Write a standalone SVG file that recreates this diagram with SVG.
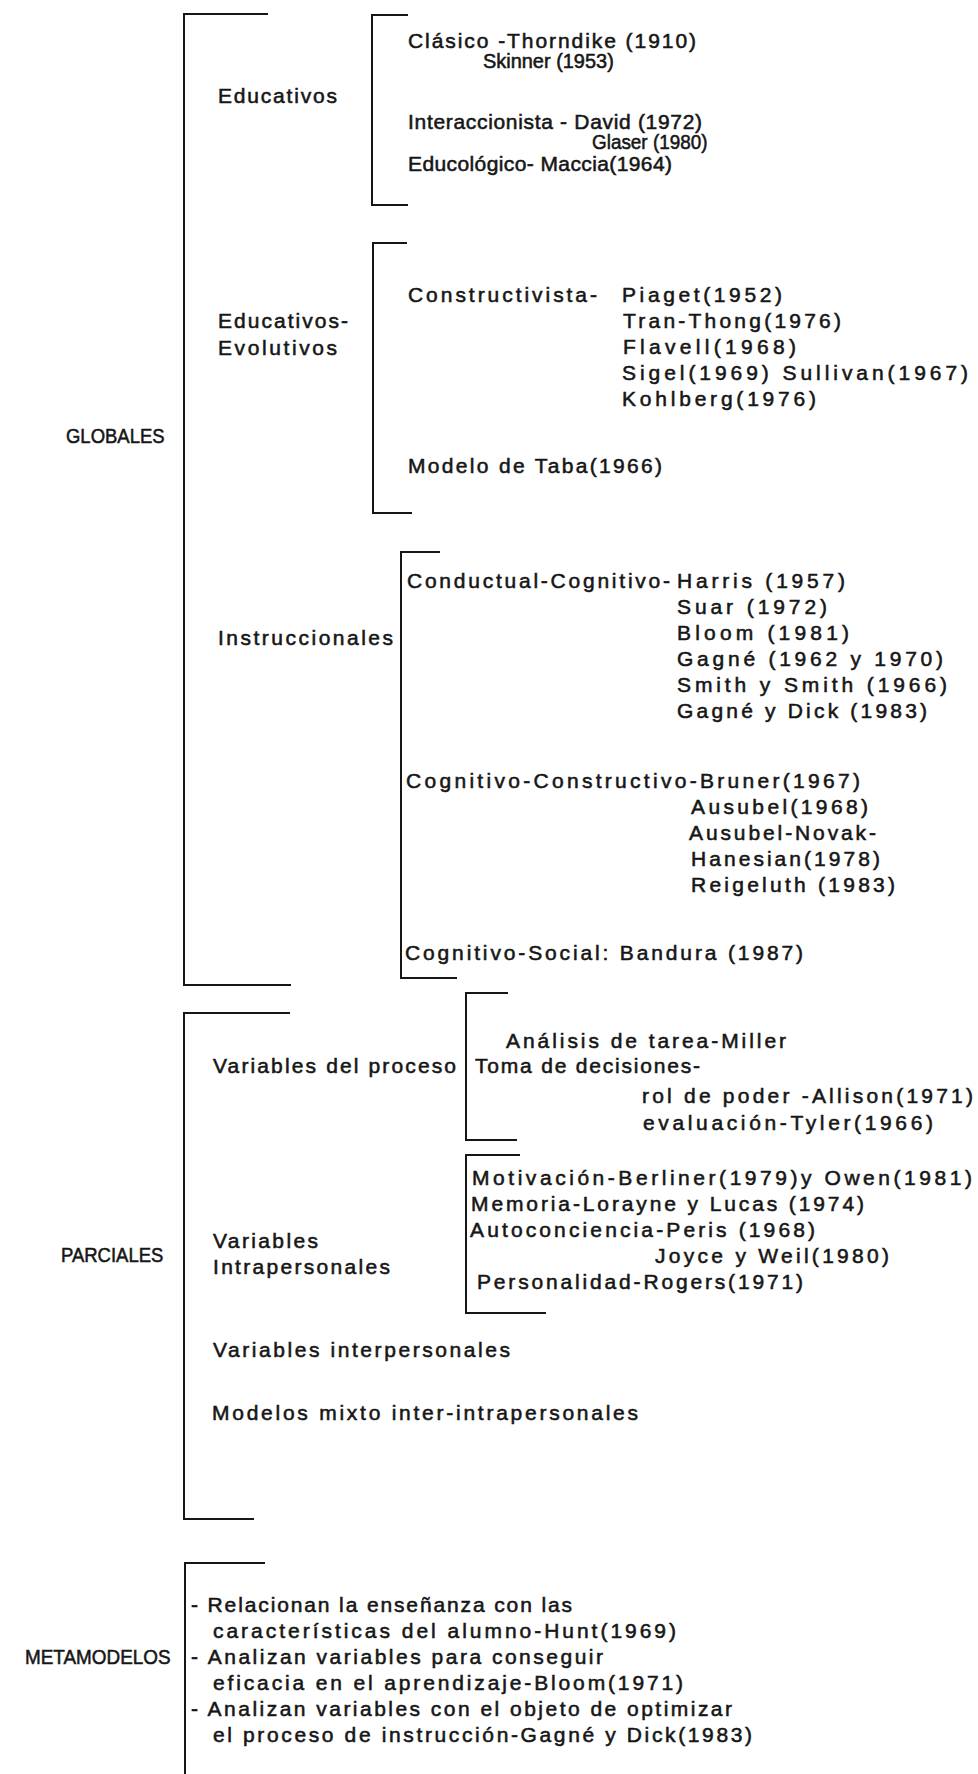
<svg xmlns="http://www.w3.org/2000/svg" width="978" height="1774" viewBox="0 0 978 1774">
<style>
text{font-family:"Liberation Sans","DejaVu Sans",sans-serif;font-size:21px;fill:#161616;stroke:#161616;stroke-width:0.55}
.br{fill:none;stroke:#161616;stroke-width:2}
</style>
<rect width="978" height="1774" fill="#fff"/>
<g id="connectors">
<path class="br" d="M268,14 H184 V985 H291"/>
<path class="br" d="M408,15 H372 V205 H408"/>
<path class="br" d="M407,243 H373 V513 H412"/>
<path class="br" d="M440,552 H401 V978 H457"/>
<path class="br" d="M290,1013 H184 V1519 H254"/>
<path class="br" d="M508,993 H466 V1140 H517"/>
<path class="br" d="M520,1155 H466 V1313 H546"/>
<path class="br" d="M265,1563 H185 V1774"/>
</g>
<g id="globales"><text transform="translate(66,443) scale(0.88,1)">GLOBALES</text></g>
<g id="educativos">
<text x="218" y="103" textLength="119" lengthAdjust="spacing">Educativos</text>
<text x="408" y="48" textLength="288" lengthAdjust="spacing">Clásico -Thorndike (1910)</text>
<text transform="translate(483,68) scale(0.95,1)">Skinner (1953)</text>
<text x="408" y="129" textLength="294" lengthAdjust="spacing">Interaccionista - David (1972)</text>
<text transform="translate(592,149) scale(0.9,1)">Glaser (1980)</text>
<text x="408" y="171" textLength="264" lengthAdjust="spacing">Educológico- Maccia(1964)</text>
</g>
<g id="educativos-evolutivos">
<text x="218" y="328" textLength="130" lengthAdjust="spacing">Educativos-</text>
<text x="218" y="355" textLength="119" lengthAdjust="spacing">Evolutivos</text>
<text x="408" y="302" textLength="189" lengthAdjust="spacing">Constructivista-</text>
<text x="622" y="302" textLength="160" lengthAdjust="spacing">Piaget(1952)</text>
<text x="623" y="328" textLength="218" lengthAdjust="spacing">Tran-Thong(1976)</text>
<text x="623" y="354" textLength="173" lengthAdjust="spacing">Flavell(1968)</text>
<text x="622" y="380" textLength="346" lengthAdjust="spacing">Sigel(1969) Sullivan(1967)</text>
<text x="622" y="406" textLength="194" lengthAdjust="spacing">Kohlberg(1976)</text>
<text x="408" y="473" textLength="254" lengthAdjust="spacing">Modelo de Taba(1966)</text>
</g>
<g id="instruccionales">
<text x="218" y="645" textLength="175" lengthAdjust="spacing">Instruccionales</text>
<text x="407" y="588" textLength="263" lengthAdjust="spacing">Conductual-Cognitivo-</text>
<text x="677" y="588" textLength="168" lengthAdjust="spacing">Harris (1957)</text>
<text x="677" y="614" textLength="150" lengthAdjust="spacing">Suar (1972)</text>
<text x="677" y="640" textLength="172" lengthAdjust="spacing">Bloom (1981)</text>
<text x="677" y="666" textLength="266" lengthAdjust="spacing">Gagné (1962 y 1970)</text>
<text x="677" y="692" textLength="270" lengthAdjust="spacing">Smith y Smith (1966)</text>
<text x="677" y="718" textLength="250" lengthAdjust="spacing">Gagné y Dick (1983)</text>
<text x="406" y="788" textLength="454" lengthAdjust="spacing">Cognitivo-Constructivo-Bruner(1967)</text>
<text x="691" y="814" textLength="177" lengthAdjust="spacing">Ausubel(1968)</text>
<text x="689" y="840" textLength="187" lengthAdjust="spacing">Ausubel-Novak-</text>
<text x="691" y="866" textLength="189" lengthAdjust="spacing">Hanesian(1978)</text>
<text x="691" y="892" textLength="204" lengthAdjust="spacing">Reigeluth (1983)</text>
<text x="405" y="960" textLength="398" lengthAdjust="spacing">Cognitivo-Social: Bandura (1987)</text>
</g>
<g id="parciales"><text transform="translate(61,1262) scale(0.88,1)">PARCIALES</text></g>
<g id="variables-proceso">
<text x="213" y="1073" textLength="243" lengthAdjust="spacing">Variables del proceso</text>
<text x="506" y="1048" textLength="280" lengthAdjust="spacing">Análisis de tarea-Miller</text>
<text x="475" y="1073" textLength="225" lengthAdjust="spacing">Toma de decisiones-</text>
<text x="642" y="1103" textLength="331" lengthAdjust="spacing">rol de poder -Allison(1971)</text>
<text x="643" y="1130" textLength="290" lengthAdjust="spacing">evaluación-Tyler(1966)</text>
</g>
<g id="variables-intrapersonales">
<text x="213" y="1248" textLength="105" lengthAdjust="spacing">Variables</text>
<text x="213" y="1274" textLength="177" lengthAdjust="spacing">Intrapersonales</text>
<text x="472" y="1185" textLength="500" lengthAdjust="spacing">Motivación-Berliner(1979)y Owen(1981)</text>
<text x="471" y="1211" textLength="393" lengthAdjust="spacing">Memoria-Lorayne y Lucas (1974)</text>
<text x="470" y="1237" textLength="345" lengthAdjust="spacing">Autoconciencia-Peris (1968)</text>
<text x="655" y="1263" textLength="234" lengthAdjust="spacing">Joyce y Weil(1980)</text>
<text x="477" y="1289" textLength="326" lengthAdjust="spacing">Personalidad-Rogers(1971)</text>
</g>
<g id="variables-interpersonales"><text x="213" y="1357" textLength="297" lengthAdjust="spacing">Variables interpersonales</text></g>
<g id="modelos-mixto"><text x="212" y="1420" textLength="426" lengthAdjust="spacing">Modelos mixto inter-intrapersonales</text></g>
<g id="metamodelos">
<text transform="translate(25,1664) scale(0.9,1)">METAMODELOS</text>
<text x="191" y="1612" textLength="381" lengthAdjust="spacing">- Relacionan la enseñanza con las</text>
<text x="213" y="1638" textLength="463" lengthAdjust="spacing">características del alumno-Hunt(1969)</text>
<text x="191" y="1664" textLength="412" lengthAdjust="spacing">- Analizan variables para conseguir</text>
<text x="213" y="1690" textLength="470" lengthAdjust="spacing">eficacia en el aprendizaje-Bloom(1971)</text>
<text x="191" y="1716" textLength="541" lengthAdjust="spacing">- Analizan variables con el objeto de optimizar</text>
<text x="213" y="1742" textLength="539" lengthAdjust="spacing">el proceso de instrucción-Gagné y Dick(1983)</text>
</g>
</svg>
